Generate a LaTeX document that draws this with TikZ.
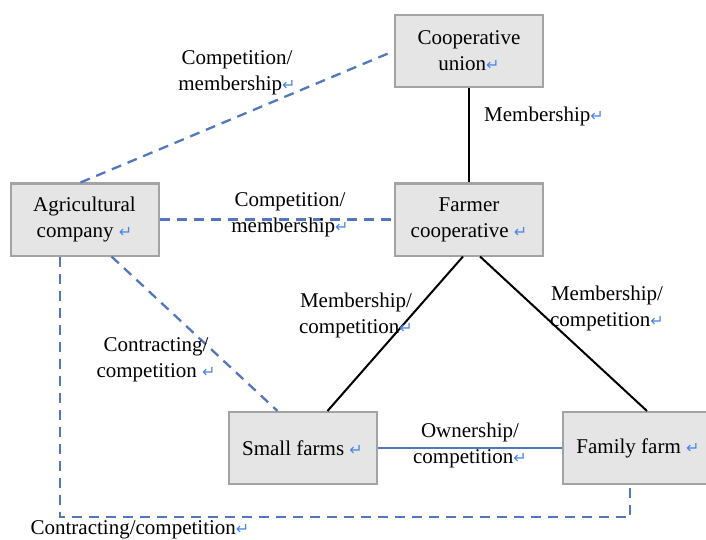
\documentclass[tikz,border=0pt]{standalone}
\usepackage{fontspec}
\setmainfont{Liberation Serif}
\newfontfamily\djv{DejaVu Sans}
\definecolor{boxfill}{HTML}{E5E5E5}
\definecolor{boxdraw}{HTML}{A3A3A3}
\definecolor{dashblue}{HTML}{5277BC}
\definecolor{retblue}{HTML}{4A86E8}
\newcommand\retmark{{\djv\fontsize{16}{16}\selectfont\textcolor{retblue}{↵}}}
\begin{document}
\begin{tikzpicture}[x=1pt,y=-1pt,
  every node/.style={font=\fontsize{21}{26}\selectfont},
  entity/.style={draw=boxdraw,fill=boxfill,line width=2pt,minimum width=148pt,minimum height=72pt,align=center,inner sep=2pt},
  lab/.style={align=center,inner sep=0pt},
  dashlink/.style={draw=dashblue,line width=2.3pt,dash pattern=on 10pt off 7pt},
  solidlink/.style={draw=black,line width=2pt},
  bluelink/.style={draw=dashblue,line width=2pt}]
\useasboundingbox (0,0) rectangle (706,540);
\node[entity] (cu) at (469,51) {Cooperative\\union\retmark};
\node[entity] (fc) at (469,219.5) {Farmer\\cooperative \retmark};
\node[entity] (ac) at (84.5,219.5) {Agricultural\\company \retmark};
\node[entity] (sf) at (302.5,448) {Small farms \retmark};
\node[entity,minimum width=150pt] (ff) at (638,448) {Family farm \retmark};
\coordinate (corner) at (630,517);
% connectors
\draw[solidlink] (cu.south) -- (fc.north);
\draw[dashlink] ([xshift=-4pt]ac.north) -- (cu.west);
\draw[dashlink] (ac.east) -- (fc.west);
\draw[dashlink] ([xshift=27pt]ac.south) -- ([xshift=-25pt]sf.north);
\draw[solidlink] ([xshift=-6pt]fc.south) -- ([xshift=25pt]sf.north);
\draw[solidlink] ([xshift=11pt]fc.south) -- ([xshift=9pt]ff.north);
\draw[bluelink] (sf.east) -- (ff.west);
\draw[dashlink] ([xshift=-24.5pt]ac.south) |- (corner) -- ([xshift=-8pt]ff.south);
% labels
\node[lab] (l1) at (237,73) {Competition/\\membership\retmark};
\node[lab] (l2) at (544,116) {Membership\retmark};
\node[lab] (l3) at (290,215) {Competition/\\membership\retmark};
\node[lab] (l4) at (356,315) {Membership/\\competition\retmark};
\node[lab] (l5) at (607,308) {Membership/\\competition\retmark};
\node[lab] (l6) at (156,360) {Contracting/\\competition \retmark};
\node[lab] (l7) at (470,445) {Ownership/\\competition\retmark};
\node[lab] (l8) at (140,530) {Contracting/competition\retmark};
\end{tikzpicture}
\end{document}
